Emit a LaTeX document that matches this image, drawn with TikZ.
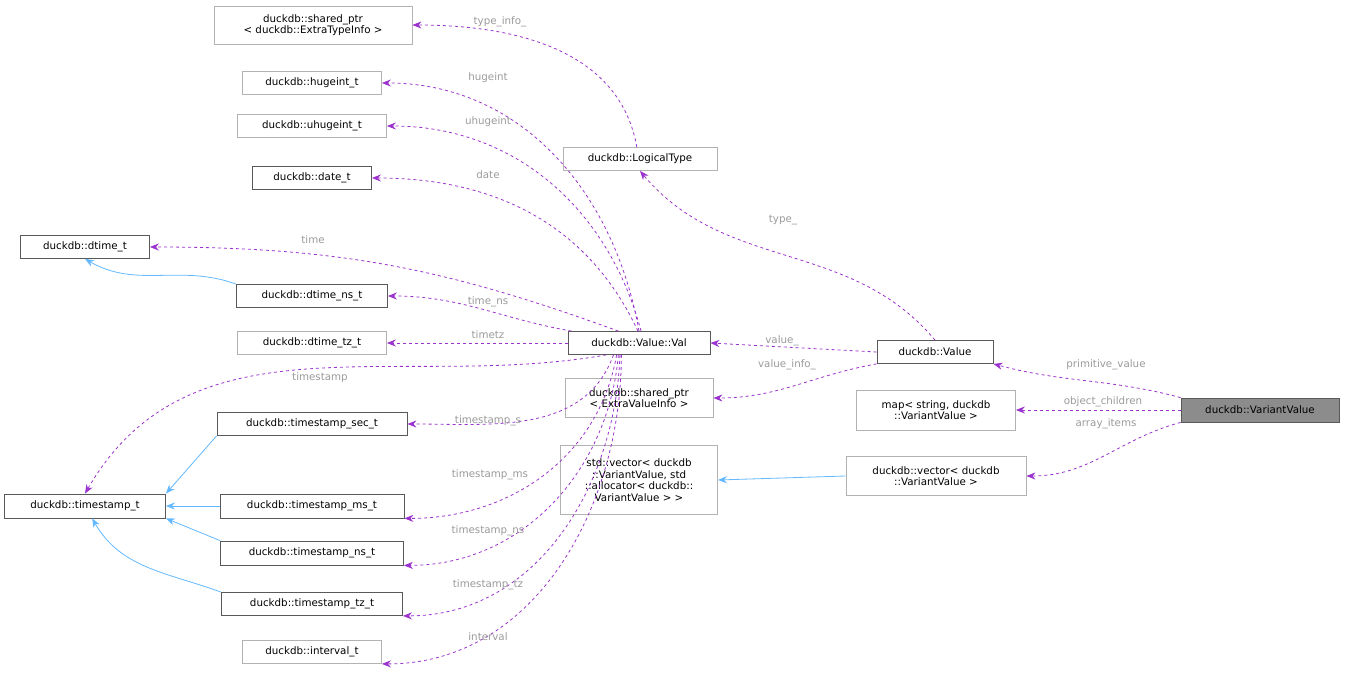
\documentclass[tikz,border=0pt]{standalone}
\usepackage{fontspec}
\setmainfont{DejaVu Sans}
\usetikzlibrary{arrows.meta}
\definecolor{depcol}{HTML}{9A32CD}
\definecolor{inhcol}{HTML}{63B8FF}
\definecolor{labcol}{HTML}{9A9A9A}
\tikzset{
  cls/.style={draw=black!65, fill=white, line width=0.8pt, inner sep=2pt, align=center, font=\fontsize{10.3}{11.5}\selectfont},
  ext/.style={cls, draw=black!30},
  me/.style={cls, fill=black!45},
  dep/.style={draw=depcol, line width=0.8pt, dashed, -{Stealth[length=9pt,width=7pt]}},
  inh/.style={draw=inhcol, line width=0.8pt, -{Stealth[length=9pt,width=7pt]}},
  lbl/.style={text=labcol, font=\fontsize{10.3}{11.5}\selectfont, inner sep=1pt}
}
\begin{document}
\begin{tikzpicture}[x=1pt,y=-1pt]
\useasboundingbox (0,0) rectangle (1345,685);

%% classes
\node[ext, minimum width=198, minimum height=38] (tip) at (313,25) {duckdb::shared\_ptr\\\textless{} duckdb::ExtraTypeInfo \textgreater};
\node[ext, minimum width=139, minimum height=23] (hge) at (312,83) {duckdb::hugeint\_t};
\node[ext, minimum width=149, minimum height=23] (uhge) at (312,126) {duckdb::uhugeint\_t};
\node[cls, minimum width=119, minimum height=23] (date) at (312,178) {duckdb::date\_t};
\node[cls, minimum width=129, minimum height=23] (dt) at (85,247) {duckdb::dtime\_t};
\node[cls, minimum width=151, minimum height=23] (dns) at (312,296) {duckdb::dtime\_ns\_t};
\node[ext, minimum width=149, minimum height=23] (dtz) at (312,343) {duckdb::dtime\_tz\_t};
\node[cls, minimum width=142, minimum height=23] (val) at (639,343) {duckdb::Value::Val};
\node[ext, minimum width=154, minimum height=23] (lt) at (640,159) {duckdb::LogicalType};
\node[cls, minimum width=116, minimum height=23] (value) at (935,352) {duckdb::Value};
\node[me, minimum width=158, minimum height=24] (vv) at (1260,410) {duckdb::VariantValue};
\node[ext, minimum width=148, minimum height=39] (evi) at (639,398) {duckdb::shared\_ptr\\\textless{} ExtraValueInfo \textgreater};
\node[ext, minimum width=159, minimum height=40] (map) at (936,410) {map\textless{} string, duckdb\\::VariantValue \textgreater};
\node[ext, minimum width=157, minimum height=69] (svec) at (639,480) {std::vector\textless{} duckdb\\::VariantValue, std\\::allocator\textless{} duckdb::\\VariantValue \textgreater{} \textgreater};
\node[ext, minimum width=180, minimum height=39] (dvec) at (936,476) {duckdb::vector\textless{} duckdb\\::VariantValue \textgreater};
\node[cls, minimum width=161, minimum height=24] (ts) at (85,506) {duckdb::timestamp\_t};
\node[cls, minimum width=190, minimum height=23] (tsec) at (312,424) {duckdb::timestamp\_sec\_t};
\node[cls, minimum width=184, minimum height=24] (tms) at (312,506) {duckdb::timestamp\_ms\_t};
\node[cls, minimum width=183, minimum height=24] (tns) at (312,553) {duckdb::timestamp\_ns\_t};
\node[cls, minimum width=181, minimum height=23] (ttz) at (312,604) {duckdb::timestamp\_tz\_t};
\node[ext, minimum width=139, minimum height=23] (iv) at (312,652) {duckdb::interval\_t};

%% inheritance
\draw[inh] (dns.north west) to[out=160,in=-30] (dt.south);
\draw[inh] (tsec.south west) to (ts.north east);
\draw[inh] (tms.west) -- (ts.east);
\draw[inh] (tns.north west) to (ts.south east);
\draw[inh] (ttz.north west) to[out=160,in=-60] (ts.-60);
\draw[inh] (dvec.west) -- (svec.east);

%% members
\draw[dep] (lt.105) to[out=100,in=0] (tip.east);
\draw[dep] (val.north) to[out=100,in=0] (hge.east);
\draw[dep] (val.80) to[out=105,in=0] (uhge.east);
\draw[dep] (val.95) to[out=115,in=0] (date.east);
\draw[dep] (val.150) to[out=160,in=0] (dt.east);
\draw[dep] (val.170) to[out=170,in=0] (dns.east);
\draw[dep] (val.west) -- (dtz.east);
\draw[dep] (val.200) to[out=190,in=60] (ts.north);
\draw[dep] (val.-155) to[out=-110,in=0] (tsec.east);
\draw[dep] (val.-152) to[out=-100,in=0] (tms.south east);
\draw[dep] (val.-150) to[out=-95,in=0] (tns.south east);
\draw[dep] (val.-148) to[out=-92,in=0] (ttz.south east);
\draw[dep] (val.-146) to[out=-90,in=0] (iv.south east);
\draw[dep] (value.north) to[out=130,in=-50] (lt.south);
\draw[dep] (value.west) -- (val.east);
\draw[dep] (value.south west) to[out=190,in=0] (evi.east);
\draw[dep] (vv.north west) to[out=165,in=-15] (value.south east);
\draw[dep] (vv.west) -- (map.east);
\draw[dep] (vv.south west) to[out=195,in=0] (dvec.east);

%% labels
\node[lbl] (l1) at (500,22) {type\_info\_};
\node[lbl] (l2) at (488,78) {hugeint};
\node[lbl] (l3) at (488,122) {uhugeint};
\node[lbl] (l4) at (488,175) {date};
\node[lbl] (l5) at (313,240) {time};
\node[lbl] (l6) at (488,302) {time\_ns};
\node[lbl] (l7) at (488,335) {timetz};
\node[lbl] (l8) at (320,378) {timestamp};
\node[lbl] (l9) at (488,421) {timestamp\_s};
\node[lbl] (l10) at (490,475) {timestamp\_ms};
\node[lbl] (l11) at (488,531) {timestamp\_ns};
\node[lbl] (l12) at (488,585) {timestamp\_tz};
\node[lbl] (l13) at (488,637) {interval};
\node[lbl] (l14) at (783,220) {type\_};
\node[lbl] (l15) at (782,341) {value\_};
\node[lbl] (l16) at (787,365) {value\_info\_};
\node[lbl] (l17) at (1106,365) {primitive\_value};
\node[lbl] (l18) at (1103,402) {object\_children};
\node[lbl] (l19) at (1106,424) {array\_items};
\end{tikzpicture}
\end{document}
